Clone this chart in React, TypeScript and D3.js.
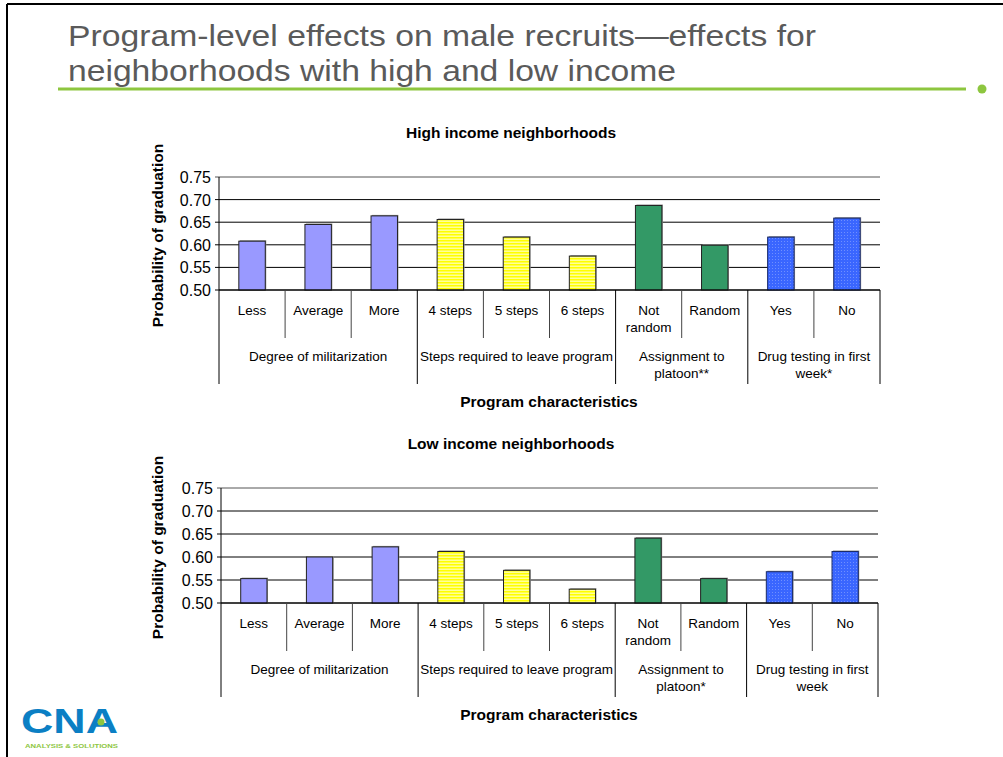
import React from "react";
import * as d3 from "d3";

const categories: string[][] = [
  ["Less"], ["Average"], ["More"], ["4 steps"], ["5 steps"], ["6 steps"],
  ["Not", "random"], ["Random"], ["Yes"], ["No"],
];
const groupSizes = [3, 3, 2, 2];
const groupKinds = ["purple", "yellow", "green", "blue"];
const highValues = [0.608, 0.645, 0.664, 0.656, 0.617, 0.575, 0.687, 0.599, 0.617, 0.659];
const lowValues = [0.553, 0.600, 0.622, 0.612, 0.571, 0.530, 0.641, 0.553, 0.568, 0.612];
const highGroupLabels: string[][] = [
  ["Degree of militarization"], ["Steps required to leave program"],
  ["Assignment to", "platoon**"], ["Drug testing in first", "week*"],
];
const lowGroupLabels: string[][] = [
  ["Degree of militarization"], ["Steps required to leave program"],
  ["Assignment to", "platoon*"], ["Drug testing in first", "week"],
];
const yTicks = [0.5, 0.55, 0.6, 0.65, 0.7, 0.75];

const FONT = "'Liberation Sans', Arial, sans-serif";

const fills: Record<string, string> = {
  purple: "#9999ff",
  yellow: "url(#pYellow)",
  green: "#339966",
  blue: "url(#pBlue)",
};

function Panel(props: {
  id: string; title: string; values: number[]; groupLabels: string[][];
  x0: number; x1: number; top: number; bottom: number; titleY: number;
}) {
  const { title, values, groupLabels, x0, x1, top, bottom, titleY } = props;
  const x = d3.scaleBand<number>().domain(d3.range(values.length)).range([x0, x1]).paddingInner(0).paddingOuter(0);
  const y = d3.scaleLinear().domain([0.5, 0.75]).range([bottom, top]);
  const bw = x.bandwidth();
  const barW = bw * 0.4;
  const groupIdx: number[] = [];
  groupSizes.forEach((n, g) => { for (let i = 0; i < n; i++) groupIdx.push(g); });
  const groupStarts: number[] = [0];
  groupSizes.forEach((n, g) => groupStarts.push(groupStarts[g] + n));
  const boundaryX = (i: number) => (i >= values.length ? x1 : (x(i) as number));

  return (
    <g>
      <text x={511} y={titleY} textAnchor="middle" fontFamily={FONT} fontWeight="bold" fontSize={15.5}>{title}</text>
      <text transform={`translate(163,${(top + bottom) / 2 + 2}) rotate(-90)`} textAnchor="middle"
        fontFamily={FONT} fontWeight="bold" fontSize={15.5}>Probability of graduation</text>
      {yTicks.map((t, i) => (
        <g key={i}>
          <line x1={x0 - 4} x2={x1} y1={y(t)} y2={y(t)} stroke={i === yTicks.length - 1 ? "#555" : "#000"} strokeWidth={1} />
          <text x={x0 - 8} y={y(t) + 6} textAnchor="end" fontFamily={FONT} fontSize={16}>{t.toFixed(2)}</text>
        </g>
      ))}
      {values.map((v, i) => {
        const cx = (x(i) as number) + bw / 2;
        const kind = groupKinds[groupIdx[i]];
        return (
          <g key={i}>
            <rect x={cx - barW / 2 + 1} y={y(v) - 1} width={barW} height={bottom - y(v) + 1} fill="#999" />
            <rect x={cx - barW / 2} y={y(v)} width={barW} height={bottom - y(v)} fill={fills[kind]}
              stroke={kind === "blue" ? "#1a2a66" : "#222"} strokeWidth={1} />
          </g>
        );
      })}
      <line x1={x0} x2={x0} y1={top} y2={bottom + 94} stroke="#000" />
      <line x1={x0} x2={x1} y1={bottom} y2={bottom} stroke="#000" />
      {d3.range(1, values.length + 1).map((i) => {
        const isGroup = groupStarts.includes(i);
        const bx = boundaryX(i);
        return <line key={i} x1={bx} x2={bx} y1={bottom} y2={bottom + (isGroup ? 94 : 48)} stroke={isGroup ? "#000" : "#444"} />;
      })}
      {categories.map((lines, i) => (
        <text key={i} textAnchor="middle" fontFamily={FONT} fontSize={13.5}>
          {lines.map((l, k) => (
            <tspan key={k} x={(x(i) as number) + bw / 2} y={bottom + 25 + k * 17}>{l}</tspan>
          ))}
        </text>
      ))}
      {groupLabels.map((lines, g) => {
        const cx = (boundaryX(groupStarts[g]) + boundaryX(groupStarts[g + 1])) / 2;
        return (
          <text key={g} textAnchor="middle" fontFamily={FONT} fontSize={13.5}>
            {lines.map((l, k) => (
              <tspan key={k} x={cx} y={bottom + 71 + k * 17}>{l}</tspan>
            ))}
          </text>
        );
      })}
      <text x={549} y={bottom + 117} textAnchor="middle" fontFamily={FONT} fontWeight="bold" fontSize={15.5}>Program characteristics</text>
    </g>
  );
}

export default function App() {
  return (
    <svg width={1003} height={757} style={{ position: "absolute", left: 0, top: 0, background: "#fff" }}>
      <defs>
        <pattern id="pYellow" width={4} height={3} patternUnits="userSpaceOnUse">
          <rect width={4} height={3} fill="#ffff99" />
          <rect width={4} height={1.5} fill="#ffff00" />
        </pattern>
        <pattern id="pBlue" width={3} height={3} patternUnits="userSpaceOnUse">
          <rect width={3} height={3} fill="#3a66ff" />
          <rect x={1} y={1} width={1} height={1} fill="#6f8fff" />
        </pattern>
      </defs>
      <rect x={0} y={0} width={1003} height={757} fill="#fff" />
      <line x1={7} x2={1003} y1={4} y2={4} stroke="#000" strokeWidth={2} />
      <line x1={7} x2={7} y1={4} y2={757} stroke="#000" strokeWidth={2} />
      <text x={68} y={46} fontFamily={FONT} fontSize={30} fill="#5a5a5a" textLength={748} lengthAdjust="spacingAndGlyphs">
        Program-level effects on male recruits—effects for
      </text>
      <text x={68} y={81} fontFamily={FONT} fontSize={30} fill="#5a5a5a" textLength={608} lengthAdjust="spacingAndGlyphs">
        neighborhoods with high and low income
      </text>
      <line x1={58} x2={966} y1={89} y2={89} stroke="#8dc63f" strokeWidth={3} />
      <circle cx={982} cy={89} r={4.5} fill="#8dc63f" />
      <Panel id="high" title="High income neighborhoods" values={highValues} groupLabels={highGroupLabels}
        x0={219} x1={880} top={177} bottom={290} titleY={138} />
      <Panel id="low" title="Low income neighborhoods" values={lowValues} groupLabels={lowGroupLabels}
        x0={221} x1={878} top={488} bottom={603} titleY={449} />
      <text x={21} y={733} fontFamily={FONT} fontWeight="bold" fontSize={35} fill="#0b7fc4" textLength={97} lengthAdjust="spacingAndGlyphs">CNA</text>
      <circle cx={101} cy={722} r={3.5} fill="#8dc63f" />
      <text x={25} y={748} fontFamily={FONT} fontWeight="bold" fontSize={5.5} fill="#8dc63f" textLength={93} lengthAdjust="spacingAndGlyphs">ANALYSIS &amp; SOLUTIONS</text>
    </svg>
  );
}
